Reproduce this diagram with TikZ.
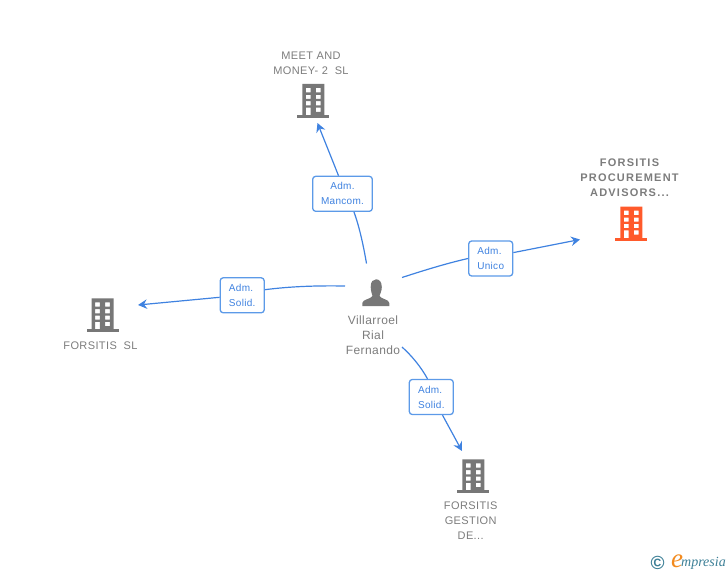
\documentclass[tikz,border=0pt]{standalone}
\usepackage{fontspec}
\setmainfont{Liberation Sans}
\newfontfamily\namefont[LetterSpace=3.5]{Liberation Sans}
\newfontfamily\boldnamefont[LetterSpace=11,BoldFont={Liberation Sans Bold}]{Liberation Sans}
\newfontfamily\linkfont[LetterSpace=3]{Liberation Sans}
\newfontfamily\logofont{Liberation Serif}
\usetikzlibrary{arrows.meta}
\definecolor{linkblue}{HTML}{3F82E0}
\definecolor{boxblue}{HTML}{5C9AE8}
\definecolor{textgray}{HTML}{7C7C7C}
\definecolor{icongray}{HTML}{777777}
\definecolor{iconorange}{HTML}{FF5A2B}
\definecolor{logoteal}{HTML}{3C7F96}
\definecolor{logoorange}{HTML}{F28A1E}
\tikzset{
  link/.style={linkblue, line width=1.2pt},
  linktip/.style={link, -{Stealth[length=9pt, width=9.5pt, inset=3pt]}},
  relbox/.style={draw=boxblue, fill=white, line width=1.3pt, rounded corners=3pt,
    minimum width=44pt, minimum height=35pt, inner sep=0pt, text=linkblue,
    font=\linkfont\fontsize{10}{15}\selectfont},
  namelabel/.style={align=center, text=textgray, font=\namefont\fontsize{11}{15}\selectfont},
  boldlabel/.style={align=center, text=textgray, font=\boldnamefont\bfseries\fontsize{11}{15}\selectfont}
}
\newcommand{\building}[3][icongray]{
  % building icon, #2 #3 is the middle of its base
  \fill[#1, even odd rule] (#2-11, #3-34) rectangle (#2+11, #3-2)
    (#2-7.5, #3-30) rectangle (#2-2.8, #3-25.7)
    (#2+2.5, #3-30) rectangle (#2+7.2, #3-25.7)
    (#2-7.5, #3-23.2) rectangle (#2-2.8, #3-19)
    (#2+2.5, #3-23.2) rectangle (#2+7.2, #3-19)
    (#2-7.5, #3-16.8) rectangle (#2-2.8, #3-12.6)
    (#2+2.5, #3-16.8) rectangle (#2+7.2, #3-12.6)
    (#2-7.5, #3-10.4) rectangle (#2-2.8, #3-2)
    (#2+2.5, #3-10.4) rectangle (#2+7.2, #3-6.2);
  \fill[#1] (#2-16, #3-3) rectangle (#2+16, #3);
}
\begin{document}
\begin{tikzpicture}[x=1pt, y=-1pt]
\useasboundingbox (0, 0) rectangle (728, 575);

% person
\fill[icongray] (370.7, 287) .. controls (370.7, 281.5) and (373, 279.3) .. (376, 279.3)
  .. controls (379, 279.3) and (381.8, 281.5) .. (381.8, 287)
  .. controls (381.8, 291) and (380, 294) .. (379.5, 296)
  .. controls (381, 299) and (389.3, 299.5) .. (389.3, 303) -- (389.3, 306) -- (362.3, 306) -- (362.3, 303)
  .. controls (362.3, 299.5) and (371, 299) .. (372.5, 296)
  .. controls (372, 294) and (370.7, 291) .. (370.7, 287) -- cycle;
\node[namelabel, font=\namefont\fontsize{12}{15}\selectfont] (villarroel) at (373, 335) {Villarroel\\Rial\\Fernando};

% companies
\building{313.3}{118}
\node[namelabel] (meet) at (311, 63) {MEET AND\\MONEY- 2\ \ SL};
\building[iconorange]{631.3}{240.7}
\node[boldlabel] (procurement) at (629.5, 178) {FORSITIS\\PROCUREMENT\\ADVISORS...};
\building{102.7}{332.3}
\node[namelabel] (forsitis) at (100.5, 345.5) {FORSITIS\ \ SL};
\building{473.3}{493.3}
\node[namelabel] (gestion) at (470.7, 521) {FORSITIS\\GESTION\\DE...};

% links
\node[relbox, minimum width=59.6pt, align=center] (mancom) at (342.5, 193.8) {Adm.\\Mancom.};
\node[relbox, align=left] (unico) at (490.7, 258.5) {Adm.\\Unico};
\node[relbox, align=left] (solidleft) at (242.2, 295.3) {Adm.\\Solid.};
\node[relbox, align=left] (solidright) at (431.3, 397) {Adm.\\Solid.};

\coordinate (startmeet) at (366.5, 263.5);
\coordinate (endmeet) at (317.5, 123);
\coordinate (startunico) at (402, 277.5);
\coordinate (endunico) at (580, 239.5);
\coordinate (startleft) at (345, 286);
\coordinate (endleft) at (138, 305);
\coordinate (startright) at (402, 347);
\coordinate (endright) at (462, 451);

\draw[link] (startmeet) .. controls (363, 243) and (359, 226) .. (354, 0 |- mancom.south);
\draw[linktip] (338.5, 0 |- mancom.north) -- (endmeet);
\draw[link] (startunico) .. controls (425, 270) and (448, 263) .. (unico.west);
\draw[linktip] (unico.east |- 0, 252.6) -- (endunico);
\draw[link] (startleft) .. controls (315, 285.5) and (290, 286.5) .. (solidleft.east |- 0, 289.7);
\draw[linktip] (solidleft.west |- 0, 297.3) -- (endleft);
\draw[link] (startright) .. controls (412, 356) and (421, 367) .. (427.5, 0 |- solidright.north);
\draw[linktip] (442.5, 0 |- solidright.south) -- (endright);

% logo
\node[text=logoteal, inner sep=0pt, font=\bfseries\fontsize{19}{19}\selectfont] (copyright) at (657.7, 563) {©};
\node[text=logoorange, inner sep=0pt, font=\logofont\itshape\fontsize{27}{27}\selectfont] (logoe) at (677, 561) {e};
\node[text=logoteal, inner sep=0pt, anchor=west, font=\logofont\itshape\fontsize{14}{14}\selectfont] (logotext) at (681, 563.5) {mpresia};
\end{tikzpicture}
\end{document}
